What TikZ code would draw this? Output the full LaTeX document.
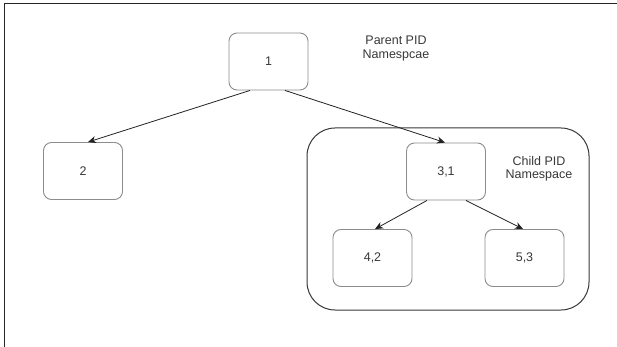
\documentclass[tikz,border=0pt]{standalone}
\usepackage{fontspec}
\setmainfont{Liberation Sans}
\usetikzlibrary{arrows.meta}
\definecolor{txt}{HTML}{383838}
\definecolor{boxline}{HTML}{8C8C8C}
\definecolor{edge}{HTML}{222222}
\begin{document}
\begin{tikzpicture}[x=1pt,y=-1pt,
  proc/.style={draw=boxline,line width=0.9pt,rounded corners=8pt,minimum width=79pt,minimum height=57pt,inner sep=0pt,text=txt,font=\fontsize{12.5}{14}\selectfont},
  container/.style={draw=txt,line width=1pt,rounded corners=28pt,minimum width=282pt,minimum height=182pt,inner sep=0pt},
  lbl/.style={align=center,text=txt,inner sep=0pt,font=\fontsize{12.5}{13.5}\selectfont},
  conn/.style={draw=edge,line width=0.8pt,-{Stealth[length=8pt,width=7pt,inset=2.5pt]}}]
\useasboundingbox (0,0) rectangle (617,347);
% frame
\coordinate (ftl) at (4.5,3.5);
\coordinate (ftr) at (617,3.5);
\coordinate (fbl) at (4.5,347);
\draw[line width=1.3pt,draw=black!85] (fbl) -- (ftl) -- (ftr);
% container
\node[container] (child) at (448,219) {};
% nodes
\node[proc] (n1) at (268.5,61.5) {1};
\node[proc] (n2) at (83,171) {2};
\node[proc] (n31) at (446,171.5) {3,1};
\node[proc] (n42) at (372.5,258) {4,2};
\node[proc] (n53) at (524.5,258) {5,3};
% labels
\node[lbl] (plabel) at (396,48.5) {Parent PID\\Namespcae};
\node[lbl] (clabel) at (539,169) {Child PID\\Namespace};
% connectors
\draw[conn] ([xshift=-18.5pt]n1.south) -- ([xshift=5pt]n2.north);
\draw[conn] ([xshift=16.5pt]n1.south) -- ([xshift=-1pt]n31.north);
\draw[conn] ([xshift=-19pt]n31.south) -- ([xshift=2.5pt]n42.north);
\draw[conn] ([xshift=20pt]n31.south) -- ([xshift=-1.5pt]n53.north);
\end{tikzpicture}
\end{document}
